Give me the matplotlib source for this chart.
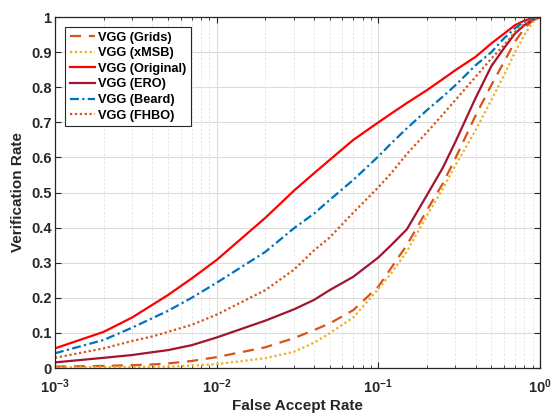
#!/usr/bin/env python3

import matplotlib
matplotlib.use("Agg")
import matplotlib.pyplot as plt
from matplotlib.ticker import LogLocator, NullFormatter

plt.rcParams["font.family"] = ["Liberation Sans", "DejaVu Sans"]
plt.rcParams["font.weight"] = "bold"
plt.rcParams["mathtext.fontset"] = "custom"
plt.rcParams["mathtext.bf"] = "Liberation Sans:bold"
plt.rcParams["mathtext.rm"] = "Liberation Sans:bold"

# False accept rate sample points
far = [0.001, 0.002, 0.003, 0.004, 0.005, 0.007, 0.01, 0.02, 0.03, 0.04, 0.05,
       0.07, 0.1, 0.12, 0.15, 0.2, 0.25, 0.3, 0.4, 0.5, 0.6, 0.7, 0.8, 0.9, 1.0]

vr_grids = [0.004, 0.006, 0.008, 0.010, 0.013, 0.020, 0.031, 0.059, 0.085, 0.108, 0.127,
            0.165, 0.232, 0.285, 0.350, 0.450, 0.525, 0.598, 0.720, 0.806, 0.873, 0.930,
            0.968, 0.990, 1.0]
vr_xmsb = [0.002, 0.003, 0.003, 0.004, 0.004, 0.007, 0.011, 0.028, 0.046, 0.072, 0.099,
           0.144, 0.225, 0.270, 0.332, 0.435, 0.510, 0.578, 0.678, 0.764, 0.835, 0.900,
           0.949, 0.985, 1.0]
vr_original = [0.056, 0.103, 0.144, 0.180, 0.208, 0.255, 0.308, 0.428, 0.505, 0.555, 0.593,
               0.650, 0.700, 0.725, 0.755, 0.792, 0.823, 0.849, 0.887, 0.925, 0.953, 0.977,
               0.990, 0.997, 1.0]
vr_ero = [0.016, 0.029, 0.037, 0.045, 0.051, 0.065, 0.087, 0.135, 0.167, 0.194, 0.222,
          0.260, 0.315, 0.350, 0.395, 0.493, 0.570, 0.645, 0.770, 0.860, 0.912, 0.953,
          0.977, 0.993, 1.0]
vr_beard = [0.042, 0.080, 0.115, 0.142, 0.163, 0.200, 0.243, 0.331, 0.398, 0.440, 0.479,
            0.536, 0.603, 0.640, 0.683, 0.735, 0.773, 0.806, 0.863, 0.900, 0.940, 0.968,
            0.987, 0.996, 1.0]
vr_fhbo = [0.029, 0.056, 0.077, 0.090, 0.103, 0.123, 0.152, 0.222, 0.280, 0.335, 0.372,
           0.443, 0.515, 0.555, 0.610, 0.672, 0.722, 0.764, 0.830, 0.882, 0.920, 0.958,
           0.980, 0.994, 1.0]

x_ticks = [1e-3, 1e-2, 1e-1, 1e0]
x_labels = [r"$\mathbf{10^{-3}}$", r"$\mathbf{10^{-2}}$", r"$\mathbf{10^{-1}}$", r"$\mathbf{10^{0}}$"]
y_ticks = [0, 0.1, 0.2, 0.3, 0.4, 0.5, 0.6, 0.7, 0.8, 0.9, 1]
y_labels = ["0", "0.1", "0.2", "0.3", "0.4", "0.5", "0.6", "0.7", "0.8", "0.9", "1"]

fig = plt.figure(figsize=(5.53, 4.17), dpi=100)
ax = fig.add_axes([0.0995, 0.1175, 0.877, 0.8415])

lw = 1.6
ax.plot(far, vr_grids, linestyle=(0, (5, 3.5)), color="#D95319", lw=lw, label="VGG (Grids)")
ax.plot(far, vr_xmsb, linestyle=(0, (1, 1.2)), color="#EDB120", lw=lw, label="VGG (xMSB)")
ax.plot(far, vr_original, linestyle="-", color="#FF0000", lw=lw, label="VGG (Original)")
ax.plot(far, vr_ero, linestyle="-", color="#A2142F", lw=lw, label="VGG (ERO)")
ax.plot(far, vr_beard, linestyle=(0, (4, 1.5, 1, 1.5)), color="#0072BD", lw=lw, label="VGG (Beard)")
ax.plot(far, vr_fhbo, linestyle=(0, (1, 1.2)), color="#D95319", lw=lw, label="VGG (FHBO)")

ax.set_xscale("log")
ax.set_xlim(1e-3, 1)
ax.set_ylim(0, 1)
ax.set_xticks(x_ticks)
ax.set_xticklabels(x_labels)
ax.xaxis.set_minor_locator(LogLocator(base=10, subs=range(2, 10)))
ax.xaxis.set_minor_formatter(NullFormatter())
ax.set_yticks(y_ticks)
ax.set_yticklabels(y_labels)

ax.grid(True, which="major", color="#dcdcdc", linestyle="-", lw=0.8)
ax.grid(True, which="minor", axis="x", color="#e4e4e4", linestyle=(0, (3, 2)), lw=0.6)
ax.set_axisbelow(True)

ax.tick_params(which="both", direction="in", top=True, right=True, colors="#262626",
               labelsize=10.5)
ax.tick_params(axis="x", which="major", pad=7)
ax.tick_params(axis="y", which="major", pad=2.5)
ax.tick_params(which="major", length=4, width=0.8)
ax.tick_params(which="minor", length=2.5, width=0.6)
for s in ax.spines.values():
    s.set_color("#262626")
    s.set_linewidth(0.9)

ax.set_xlabel("False Accept Rate", fontsize=11, fontweight="bold", color="#262626", labelpad=2)
ax.set_ylabel("Verification Rate", fontsize=11, fontweight="bold", color="#262626")

leg = ax.legend(loc="upper left", bbox_to_anchor=(0.021, 0.971), borderaxespad=0,
                prop={"size": 9.2, "weight": "bold"},
                handlelength=1.95, handletextpad=0.25, borderpad=0.35, labelspacing=0.28,
                fancybox=False, framealpha=1, edgecolor="#262626")
leg.get_frame().set_linewidth(0.8)

plt.savefig("out.png", dpi=100)
